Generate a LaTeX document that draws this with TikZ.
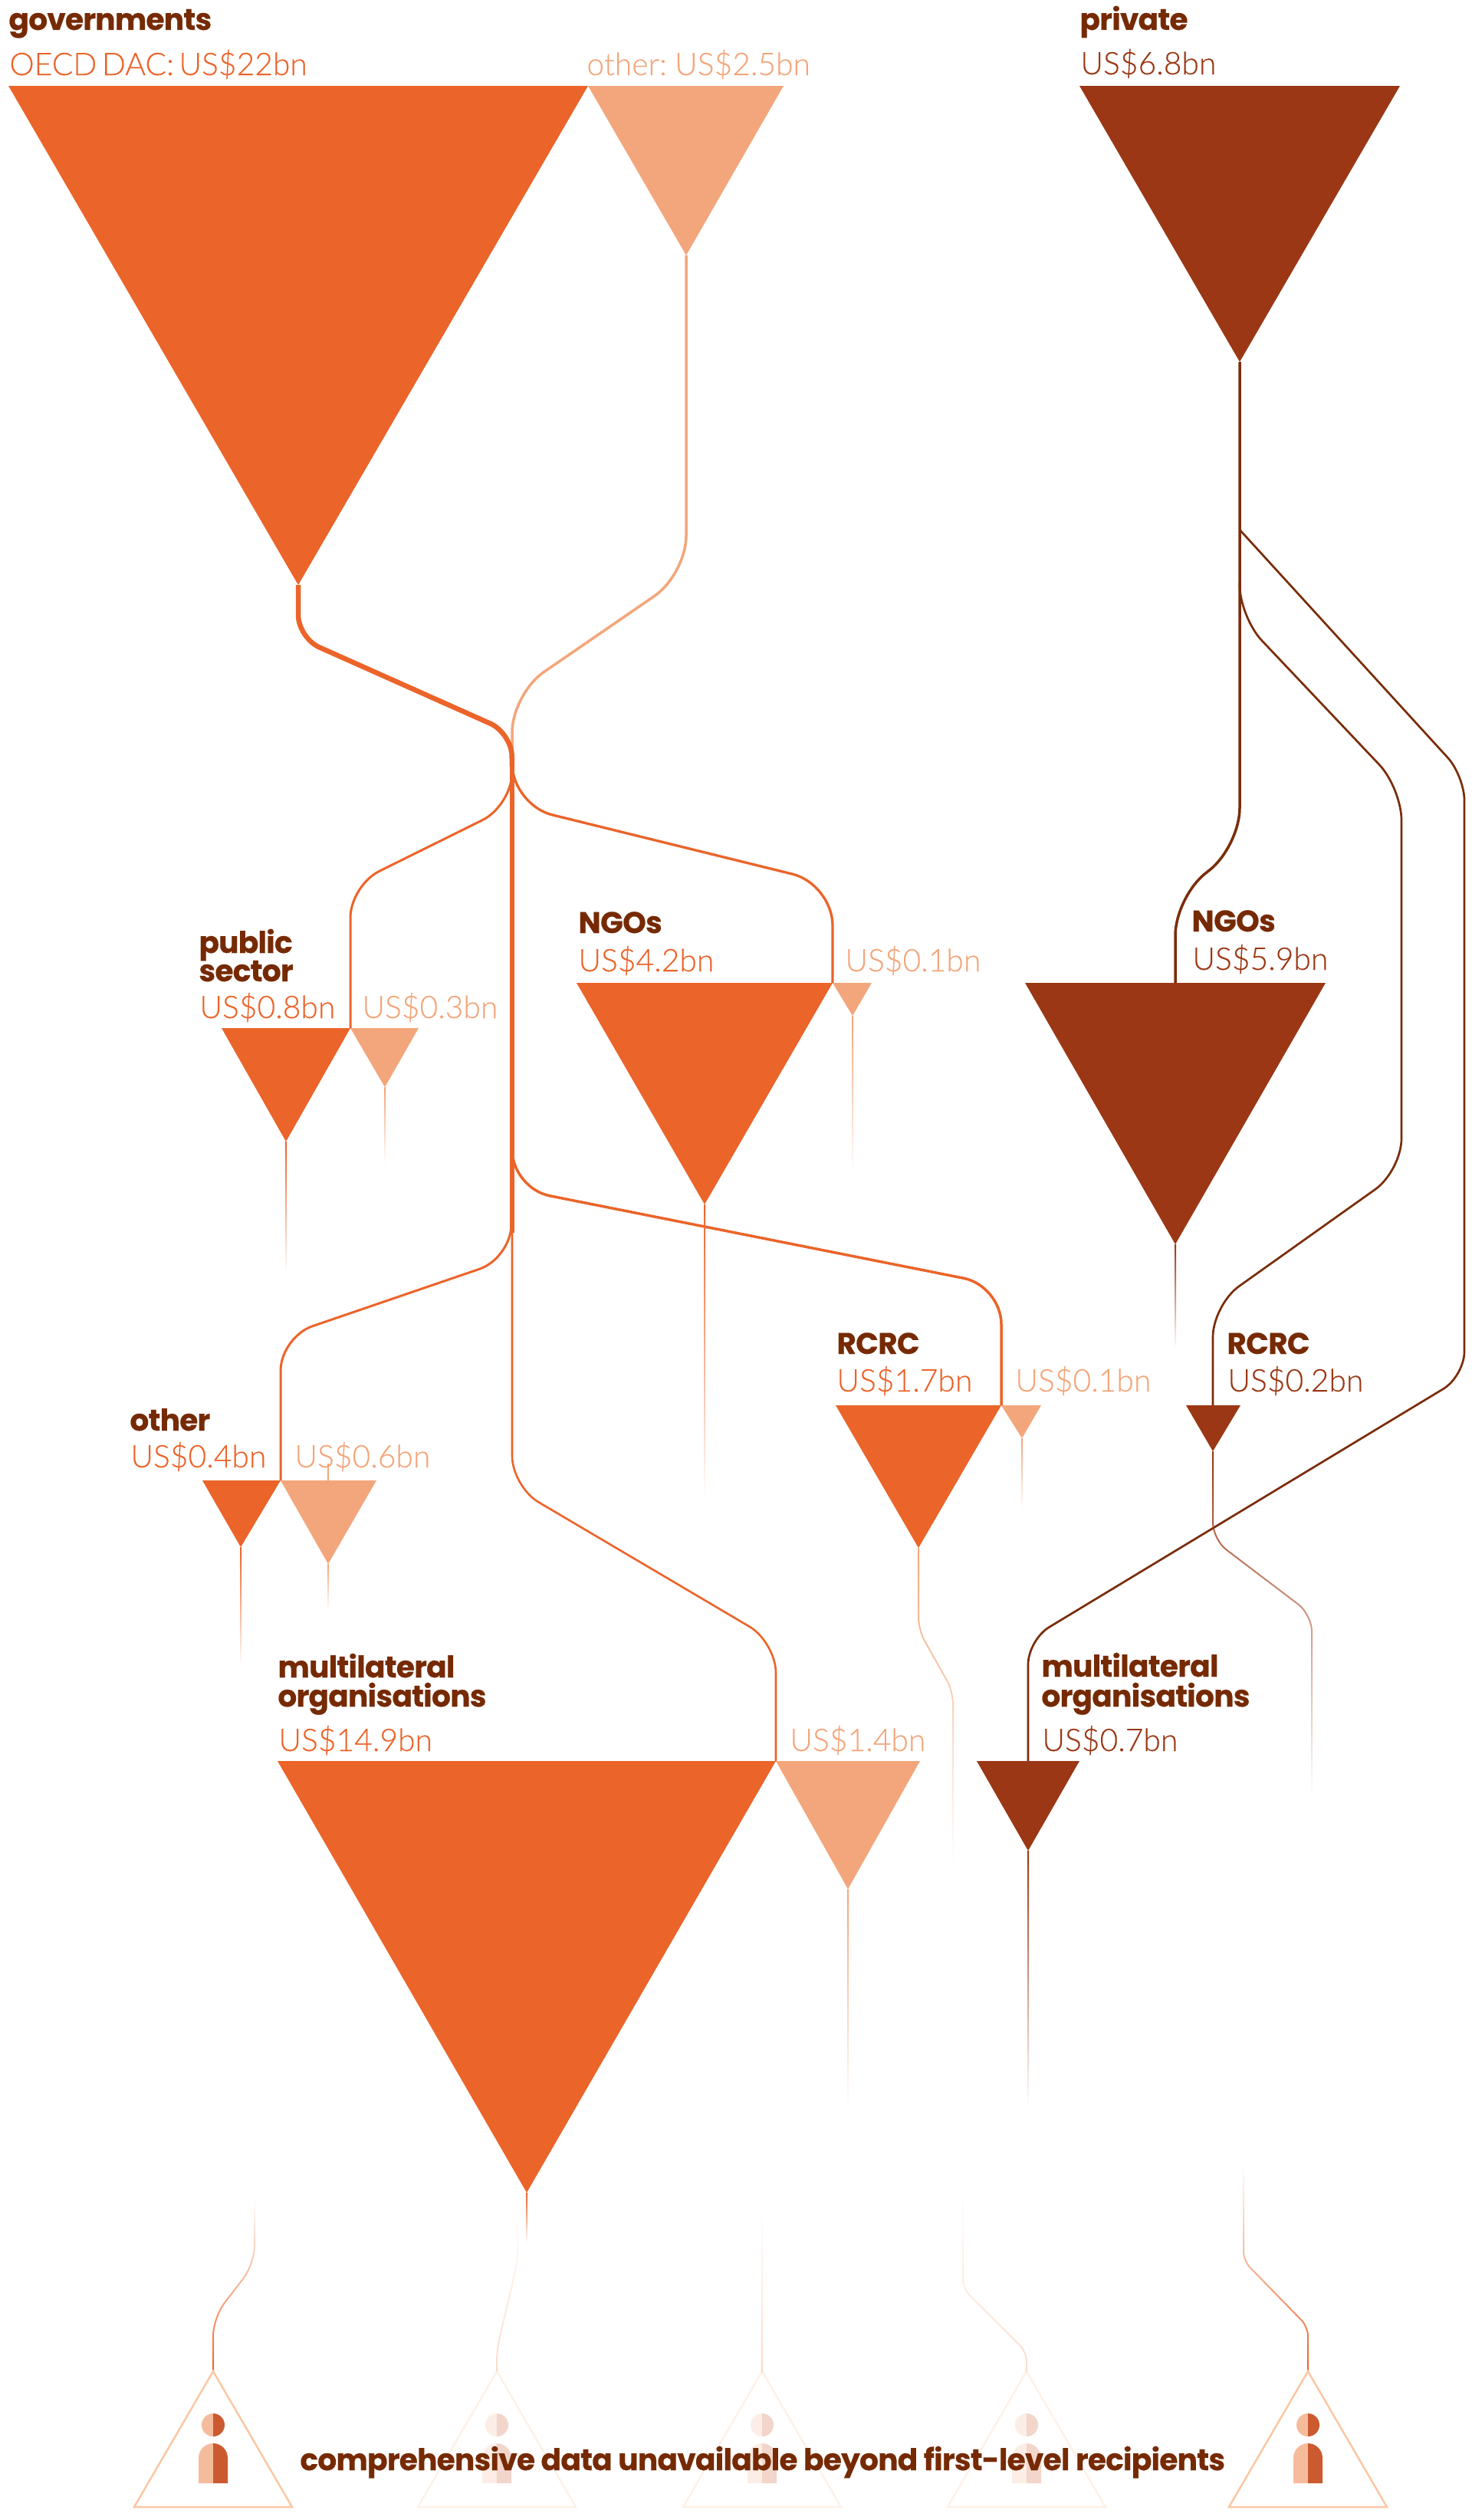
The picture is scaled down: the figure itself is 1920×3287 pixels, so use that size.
\documentclass[tikz,border=0pt]{standalone}
\usepackage{fontspec}
\usepackage{tikz}
\usetikzlibrary{fadings}
\setmainfont{Lato}
\newfontfamily\valfont{Lato Light}[FakeBold=0.2, WordSpace=0.6]
\newfontfamily\headfont{Poppins}[LetterSpace=-2, BoldFeatures={FakeBold=0.3}]
\definecolor{govorange}{HTML}{EB642A}
\definecolor{govlight}{HTML}{F3A67B}
\definecolor{privbrown}{HTML}{9B3714}
\definecolor{linebrown}{HTML}{7A2D0A}
\definecolor{textbrown}{HTML}{762A04}
\definecolor{faintline}{HTML}{FADCCB}
\definecolor{tipline}{HTML}{FBC7A4}
\definecolor{iconlight}{HTML}{F5BC9C}
\definecolor{icondark}{HTML}{CC5A30}
\tikzfading[name=fadedown, top color=transparent!0, bottom color=transparent!100]
\tikzfading[name=fadeup, top color=transparent!100, bottom color=transparent!0]
\tikzset{
    headtext/.style={anchor=base west, inner sep=0pt, text=textbrown, font=\headfont\bfseries\fontsize{19.55}{19.55}\selectfont},
    valtext/.style={anchor=base west, inner sep=0pt, font=\valfont\fontsize{20.4}{20.4}\selectfont},
    gov/.style={valtext, text=govorange},
    govl/.style={valtext, text=govlight},
    priv/.style={valtext, text=privbrown}
}

\begin{document}
\begin{tikzpicture}[x=0.5pt, y=-0.5pt]
    \useasboundingbox (0,0) rectangle (1920,3287);

    % tips of the triangles
    \coordinate (oecd) at (389,763);
    \coordinate (othergov) at (895,333);
    \coordinate (private) at (1617,472);
    \coordinate (pub) at (373,1489);
    \coordinate (publ) at (502,1418);
    \coordinate (ngo) at (919,1571);
    \coordinate (ngol) at (1112,1325);
    \coordinate (oth) at (314,2018);
    \coordinate (othl) at (428,2040);
    \coordinate (rcrc) at (1198,2019);
    \coordinate (rcrcl) at (1333,1876);
    \coordinate (multi) at (687,2860);
    \coordinate (multil) at (1106,2464);
    \coordinate (pngo) at (1533,1623);
    \coordinate (prcrc) at (1582,1893);
    \coordinate (pmulti) at (1341,2414);

    % where the lines meet the triangles
    \coordinate (pubtop) at (457,1341);
    \coordinate (ngotop) at (1086,1282);
    \coordinate (othtop) at (366,1931);
    \coordinate (rcrctop) at (1306,1833);
    \coordinate (multitop) at (1012,2297);
    \coordinate (pngotop) at (1533,1282);
    \coordinate (prcrctop) at (1582,1833);
    \coordinate (pmultitop) at (1341,2297);
    \coordinate (hub) at (668,1000);
    \coordinate (trunkend) at (668,1608);

    % government lines
    \draw[govlight, line width=1.75pt, rounded corners=25pt] (othergov) -- (895,749) -- (668,905) -- (hub);
    \draw[govorange, line width=3.25pt, rounded corners=15pt] (oecd) -- (389,832) -- (667,956) -- (hub);
    \draw[govorange, line width=3.25pt] (hub) -- (trunkend);
    \draw[govorange, line width=1.5pt, rounded corners=21pt] (hub) -- (667,1051) -- (457,1155) -- (pubtop);
    \draw[govorange, line width=1.65pt, rounded corners=27pt] (hub) -- (668,1050) -- (1086,1153) -- (ngotop);
    \draw[govorange, line width=1.75pt, rounded corners=25pt] (668,1490) -- (668,1550) -- (1306,1677) -- (rcrctop);
    \draw[govorange, line width=1.5pt, rounded corners=22pt] (667,1590) -- (667,1641) -- (366,1744) -- (othtop);
    \draw[govorange, line width=1.3pt, rounded corners=20pt] (trunkend) -- (668,1939) -- (1012,2142) -- (multitop);
    \draw[govlight, line width=1pt] (428,1909) -- (428,1931);

    % private lines
    \draw[linebrown, line width=1.75pt, rounded corners=25pt] (private) -- (1617,1104) -- (1533,1170) -- (pngotop);
    \draw[linebrown, line width=1.35pt, rounded corners=21pt] (1617,760) -- (1617,805) -- (1828,1028) -- (1828,1527) -- (1582,1702) -- (prcrctop);
    \draw[linebrown, line width=1.35pt, rounded corners=16pt] (1617,691) -- (1910,1012) -- (1910,1795) -- (1341,2139) -- (pmultitop);

    % triangles
    \fill[govorange] (11,112) -- (767,112) -- (oecd) -- cycle;
    \fill[govlight] (767,112) -- (1022,112) -- (othergov) -- cycle;
    \fill[privbrown] (1408,112) -- (1826,112) -- (private) -- cycle;
    \fill[govorange] (289,1341) -- (pubtop) -- (pub) -- cycle;
    \fill[govlight] (pubtop) -- (546,1341) -- (publ) -- cycle;
    \fill[govorange] (752,1282) -- (ngotop) -- (ngo) -- cycle;
    \fill[govlight] (ngotop) -- (1137,1282) -- (ngol) -- cycle;
    \fill[govorange] (264,1931) -- (othtop) -- (oth) -- cycle;
    \fill[govlight] (othtop) -- (491,1931) -- (othl) -- cycle;
    \fill[govorange] (1090,1833) -- (rcrctop) -- (rcrc) -- cycle;
    \fill[govlight] (rcrctop) -- (1358,1833) -- (rcrcl) -- cycle;
    \fill[govorange] (362,2297) -- (multitop) -- (multi) -- cycle;
    \fill[govlight] (multitop) -- (1200,2297) -- (multil) -- cycle;
    \fill[privbrown] (1337,1282) -- (1729,1282) -- (pngo) -- cycle;
    \fill[privbrown] (1547,1833) -- (1618,1833) -- (prcrc) -- cycle;
    \fill[privbrown] (1274,2297) -- (1408,2297) -- (pmulti) -- cycle;

    % stems that fade out
    \foreach \tip/\len/\col in {pub/170/govorange, publ/100/govlight, ngo/385/govorange, ngol/205/govlight,
        oth/155/govorange, othl/60/govlight, rcrcl/92/govlight, multi/65/govorange,
        multil/285/govlight, pngo/135/privbrown, pmulti/335/privbrown} {
        \shade[top color=\col, bottom color=white] (\tip) ++(-1,0) rectangle ++(2,\len);
    }

    % stems that bend on their way down
    \draw[govlight, line width=1pt, rounded corners=8pt, path fading=fadedown] (rcrc) -- (1198,2126) -- (1243,2206) -- (1243,2430);
    \draw[privbrown, line width=1pt, rounded corners=11pt, path fading=fadedown] (prcrc) -- (1582,2008) -- (1711,2106) -- (1711,2340);

    % lines that fade in towards the recipients
    \coordinate (tipa) at (278,3093);
    \coordinate (tipb) at (648,3093);
    \coordinate (tipc) at (994,3093);
    \coordinate (tipd) at (1339,3093);
    \coordinate (tipe) at (1706,3093);
    \draw[govorange, line width=1pt, rounded corners=12pt, path fading=fadeup] (332,2870) -- (332,2953) -- (278,3023) -- (tipa);
    \draw[faintline, line width=1pt, rounded corners=8pt, path fading=fadeup] (675,2880) -- (675,2950) -- (648,3065) -- (tipb);
    \shade[top color=white, bottom color=faintline] (993,2880) rectangle (995,3093);
    \draw[faintline, line width=1pt, rounded corners=6pt, path fading=fadeup] (1256,2856) -- (1256,2985) -- (1339,3068) -- (tipd);
    \draw[govorange, line width=1pt, rounded corners=6pt, path fading=fadeup] (1622,2823) -- (1622,2949) -- (1706,3035) -- (tipe);

    % recipient triangles and people
    \foreach \tip/\x/\op in {tipa/278/1, tipb/648/0.25, tipc/994/0.25, tipd/1339/0.25, tipe/1706/1} {
        \begin{scope}[opacity=\op]
            \draw[tipline, line width=1.25pt] (\tip) -- (\x-103,3270) -- (\x+103,3270) -- cycle;
            \fill[iconlight] (\x,3148) arc[start angle=-90, end angle=-270, radius=15] -- cycle;
            \fill[icondark] (\x,3148) arc[start angle=-90, end angle=90, radius=15] -- cycle;
            \fill[iconlight] (\x,3239) -- (\x-19,3239) -- (\x-19,3206) arc[start angle=180, end angle=270, radius=19] -- cycle;
            \fill[icondark] (\x,3187) arc[start angle=-90, end angle=0, radius=19] -- (\x+19,3239) -- (\x,3239) -- cycle;
        \end{scope}
    }

    % labels of the governments column
    \node[headtext] (governments) at (11,39) {governments};
    \node[gov] (oecdval) at (12,98) {OECD DAC: US\$22bn};
    \node[govl] (othergovval) at (765,98) {other: US\$2.5bn};
    \node[headtext] (publica) at (259,1243) {public};
    \node[headtext] (publicb) at (259,1280) {sector};
    \node[gov] (pubval) at (260,1328) {US\$0.8bn};
    \node[govl] (publval) at (472,1328) {US\$0.3bn};
    \node[headtext] (ngolabel) at (754,1217) {NGOs};
    \node[gov] (ngoval) at (754,1267) {US\$4.2bn};
    \node[govl] (ngolval) at (1102,1267) {US\$0.1bn};
    \node[headtext] (othlabel) at (169,1866) {other};
    \node[gov] (othval) at (170,1914) {US\$0.4bn};
    \node[govl] (othlval) at (384,1914) {US\$0.6bn};
    \node[headtext] (rcrclabel) at (1091,1766) {RCRC};
    \node[gov] (rcrcval) at (1091,1815) {US\$1.7bn};
    \node[govl] (rcrclval) at (1324,1815) {US\$0.1bn};
    \node[headtext] (multia) at (362,2188) {multilateral};
    \node[headtext] (multib) at (362,2226) {organisations};
    \node[gov] (multival) at (363,2284) {US\$14.9bn};
    \node[govl] (multilval) at (1030,2284) {US\$1.4bn};

    % labels of the private column
    \node[headtext] (privlabel) at (1408,39) {private};
    \node[priv] (privval) at (1409,97) {US\$6.8bn};
    \node[headtext] (pngolabel) at (1554,1215) {NGOs};
    \node[priv] (pngoval) at (1555,1265) {US\$5.9bn};
    \node[headtext] (prcrclabel) at (1600,1766) {RCRC};
    \node[priv] (prcrcval) at (1601,1815) {US\$0.2bn};
    \node[headtext] (pmultia) at (1358,2187) {multilateral};
    \node[headtext] (pmultib) at (1358,2226) {organisations};
    \node[priv] (pmultival) at (1359,2284) {US\$0.7bn};

    \node[headtext] (beyond) at (391,3222) {comprehensive data unavailable beyond first-level recipients};
\end{tikzpicture}
\end{document}
